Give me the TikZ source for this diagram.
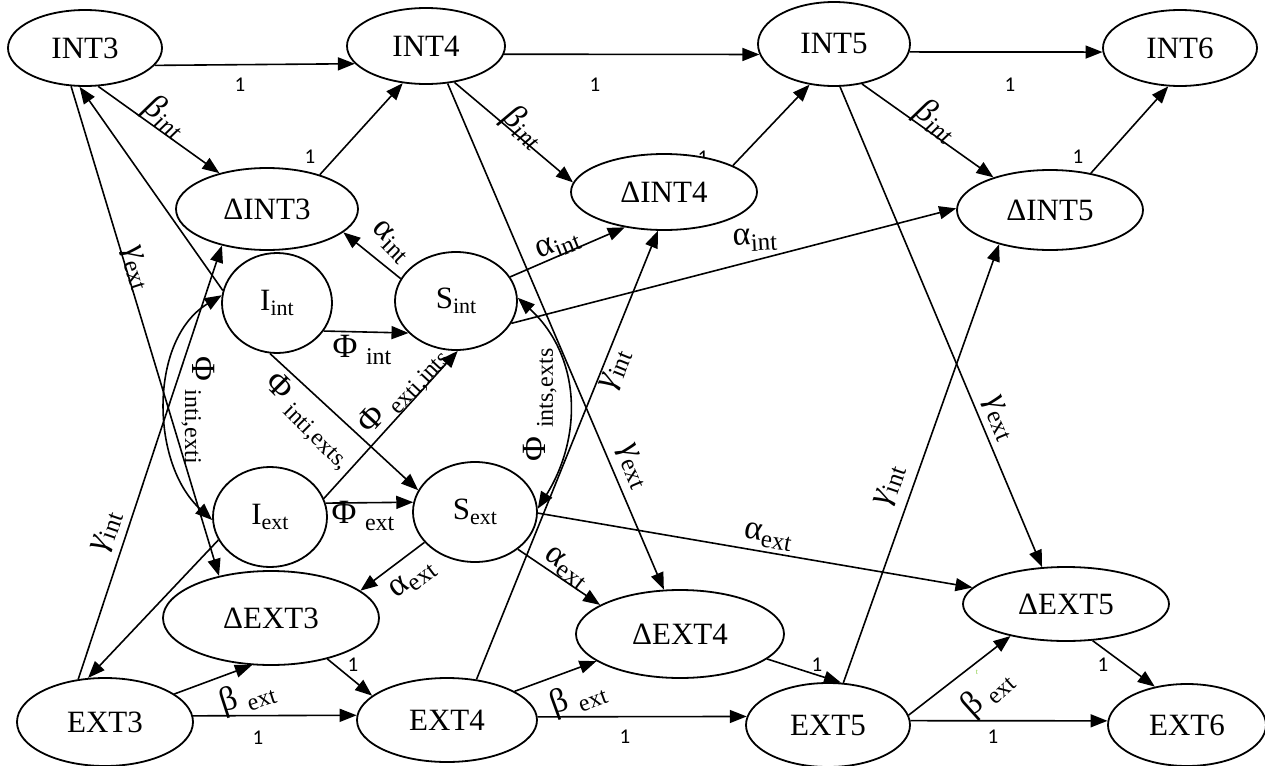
\documentclass[tikz,border=0pt]{standalone}
\usepackage{fontspec}
\setmainfont{Liberation Serif}
\newfontfamily\calib{Carlito}
\usetikzlibrary{shapes.geometric,arrows.meta}
\newcommand\lsub[1]{\raisebox{-0.45ex}{\fontsize{12}{13}\selectfont #1}}
\newcommand\gsub[1]{\raisebox{-0.4ex}{\fontsize{12.5}{13}\selectfont #1}}
\newcommand\ssub[1]{\raisebox{-0.35ex}{\fontsize{11}{12}\selectfont #1}}
\definecolor{stray}{HTML}{92D050}
\begin{document}
\begin{tikzpicture}[x=0.5pt,y=-0.5pt,
  st/.style={draw, ellipse, fill=white, line width=0.9pt, inner sep=0pt, font=\fontsize{15.5}{18}\selectfont},
  ar/.style={-{Triangle[length=8.5pt,width=6.5pt]}, line width=0.8pt},
  dar/.style={{Triangle[length=8.5pt,width=6.5pt]}-{Triangle[length=8.5pt,width=6.5pt]}, line width=0.8pt},
  one/.style={font=\calib\fontsize{10.5}{12}\selectfont, inner sep=0pt},
  lab/.style={font=\fontsize{17}{19}\selectfont, inner sep=0pt},
]
\useasboundingbox (0,0) rectangle (1265,766);

% label partly hidden behind Delta INT4
\node[one] (l1e) at (703,158) {1};

% nodes
\node[st, minimum width=77pt, minimum height=38pt] (INT3) at (85,48) {INT3};
\node[st, minimum width=79pt, minimum height=38pt] (INT4) at (426,46) {INT4};
\node[st, minimum width=76pt, minimum height=42pt] (INT5) at (834,44) {INT5};
\node[st, minimum width=77pt, minimum height=38pt] (INT6) at (1180,48) {INT6};
\node[st, minimum width=91pt, minimum height=41pt] (DINT3) at (267,209) {ΔINT3};
\node[st, minimum width=93pt, minimum height=38pt] (DINT4) at (664,192) {ΔINT4};
\node[st, minimum width=93pt, minimum height=40pt] (DINT5) at (1050,210) {ΔINT5};
\node[st, minimum width=55pt, minimum height=50pt] (Iint) at (277,303) {I\ssub{int}};
\node[st, minimum width=61pt, minimum height=49pt] (Sint) at (456,301) {S\ssub{int}};
\node[st, minimum width=57pt, minimum height=50pt] (Iext) at (270,517) {I\ssub{ext}};
\node[st, minimum width=62pt, minimum height=50pt] (Sext) at (475,512) {S\ssub{ext}};
\node[st, minimum width=108pt, minimum height=47pt] (DEXT3) at (271,618) {ΔEXT3};
\node[st, minimum width=104pt, minimum height=44pt] (DEXT4) at (680,634) {ΔEXT4};
\node[st, minimum width=103pt, minimum height=37pt] (DEXT5) at (1066,604) {ΔEXT5};
\node[st, minimum width=88pt, minimum height=44pt] (EXT3) at (105,722) {EXT3};
\node[st, minimum width=90pt, minimum height=42pt] (EXT4) at (447,720) {EXT4};
\node[st, minimum width=82pt, minimum height=42pt] (EXT5) at (828,725) {EXT5};
\node[st, minimum width=79pt, minimum height=41pt] (EXT6) at (1187,725) {EXT6};

% top row
\draw[ar] (INT3.-14) -- (INT4.-166);
\draw[ar] (INT4.-6.5) -- (INT5.-172);
\draw[ar] (INT5.-6) -- (INT6.183);
\draw[ar] (INT3.-71) -- (DINT3.143);
\draw[ar] (DINT3.33) -- (INT4.-122);
\draw[ar] (INT4.-52) -- (DINT4.174);
\draw[ar] (DINT4.21) -- (INT5.-121);
\draw[ar] (INT5.-55) -- (DINT5.150);
\draw[ar] (DINT5.42) -- (INT6.-107);
% gammas
\draw[ar] (INT3.-110) -- (DEXT3.141);
\draw[ar] (EXT3.122) -- (DINT3.-141);
\draw[ar] (INT4.-60) -- (DEXT4.110);
\draw[ar] (EXT4.54) -- (DINT4.-99);
\draw[ar] (INT5.-82) -- (DEXT5.123);
\draw[ar] (EXT5.70) -- (DINT5.-146);
% I and S
\draw[ar] (Iint.167) -- (INT3.-98);
\draw[ar] (Iext.-156) -- (EXT3.111);
\draw[ar] (Iint.-31) -- (Sint.-146);
\draw[ar] (Iext.14) -- (Sext.171);
\draw[ar] (Iint.-98) -- (Sext.159);
\draw[ar] (Iext.19) -- (Sint.-88);
\draw[dar] (Iext.183) .. controls (150,463) and (149,339) .. (Iint.172);
\draw[dar] (Sint.3.5) .. controls (581,356) and (583,436) .. (Sext.3.4);
% alphas
\draw[ar] (Sint.158) -- (DINT3.-17);
\draw[ar] (Sint.24) -- (DINT4.-138);
\draw[ar] (Sint.-22) -- (DINT5.179);
\draw[ar] (Sext.-149) -- (DEXT3.17);
\draw[ar] (Sext.-41) -- (DEXT4.160);
\draw[ar] (Sext.-1) -- (DEXT5.170);
% bottom row
\draw[ar] (EXT3.4) -- (EXT4.177.5);
\draw[ar] (EXT4.2.5) -- (EXT5.174);
\draw[ar] (EXT5.3) -- (EXT6.177);
\draw[ar] (EXT3.22) -- (DEXT3.-112);
\draw[ar] (DEXT3.-36) -- (EXT4.162);
\draw[ar] (EXT4.23) -- (DEXT4.-162);
\draw[ar] (DEXT4.-16) -- (EXT5.73);
\draw[ar] (EXT5.7) -- (DEXT5.-150);
\draw[ar] (DEXT5.-54) -- (EXT6.130);

% "1" labels
\node[one] (l1a) at (240,85) {1};
\node[one] (l1b) at (595,85) {1};
\node[one] (l1c) at (1010,85) {1};
\node[one] (l1d) at (310,157) {1};
\node[one] (l1f) at (1078,157) {1};
\node[one] (l1g) at (258,738) {1};
\node[one] (l1h) at (353,665) {1};
\node[one] (l1i) at (625,737) {1};
\node[one] (l1j) at (817,665) {1};
\node[one] (l1k) at (993,737) {1};
\node[one] (l1l) at (1103,665) {1};

% beta int
\node[lab, rotate=-36] (b1) at (165,117) {\textit{β}\gsub{\textit{int}}};
\node[lab, rotate=-40] (b2) at (524,127) {\textit{β}\gsub{\textit{int}}};
\node[lab, rotate=-36] (b3) at (936,121) {\textit{β}\gsub{\textit{int}}};
% gamma
\node[lab, rotate=-72] (g1) at (136,268) {\textit{γ}\gsub{ext}};
\node[lab, rotate=71] (g2) at (107,532) {\textit{γ}\gsub{int}};
\node[lab, rotate=68] (g3) at (616,370) {\textit{γ}\gsub{int}};
\node[lab, rotate=-67] (g4) at (633,466) {\textit{γ}\gsub{ext}};
\node[lab, rotate=-67] (g5) at (999,418) {\textit{γ}\gsub{ext}};
\node[lab, rotate=71] (g6) at (890,486) {\textit{γ}\gsub{int}};
% alpha
\node[lab, rotate=-45] (a1) at (391,242) {α\gsub{int}};
\node[lab, rotate=22] (a2) at (558,246) {α\gsub{int}};
\node[lab, rotate=3] (a3) at (755,240) {α\gsub{int}};
\node[lab, rotate=37] (a4) at (413,580) {α\gsub{ext}};
\node[lab, rotate=-37] (a5) at (566,568) {α\gsub{ext}};
\node[lab, rotate=-10] (a6) at (768,537) {α\gsub{ext}};
% beta ext
\node[lab, rotate=18] (be1) at (247,696) {β \lsub{ext}};
\node[lab, rotate=20] (be2) at (578,697) {β \lsub{ext}};
\node[lab, rotate=42] (be3) at (987,693) {β \lsub{ext}};
\node[font=\fontsize{4}{5}\selectfont, text=stray, inner sep=0pt] (tt) at (977,672) {t};
% phi
\node[lab] (p1) at (362,350) {Φ \lsub{int}};
\node[lab] (p2) at (363,516) {Φ \lsub{ext}};
\node[lab, rotate=-90] (p3) at (198,410) {Φ \lsub{inti,exti}};
\node[lab, rotate=-45] (p4) at (309,421) {Φ \lsub{inti,exts,}};
\node[lab, rotate=47] (p5) at (404,391) {Φ \lsub{exti,ints}};
\node[lab, rotate=90] (p6) at (540,405) {Φ \lsub{ints,exts}};
\end{tikzpicture}
\end{document}
